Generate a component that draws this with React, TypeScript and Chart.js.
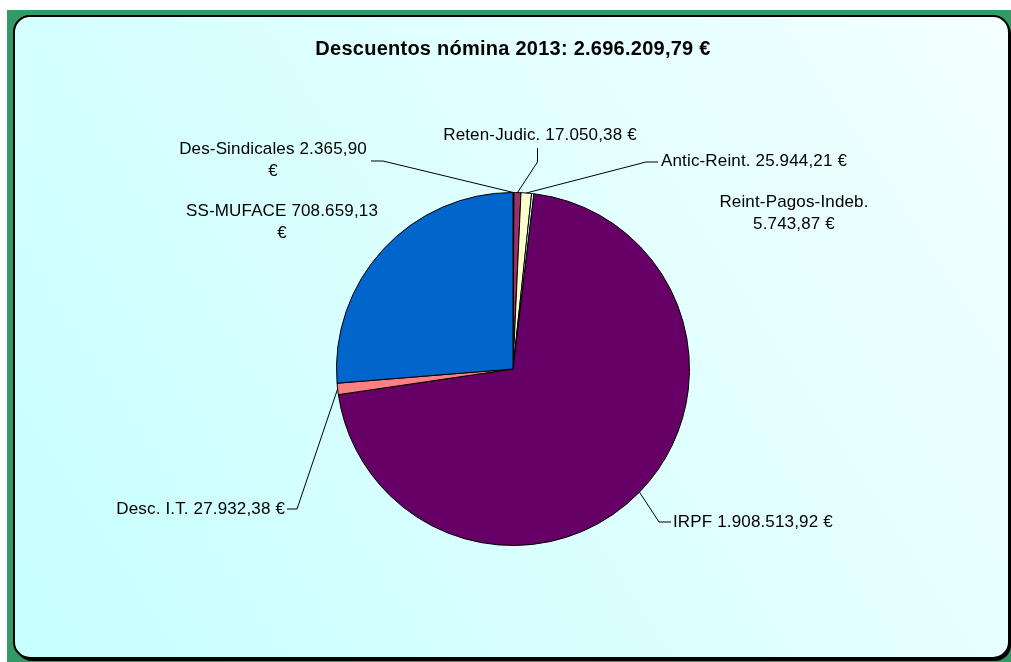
import React, { useEffect, useRef } from "react";
import { Chart, registerables } from "chart.js";

Chart.register(...registerables);

const title = "Descuentos nómina 2013: 2.696.209,79 €";
const categories = [
  "Des-Sindicales",
  "Reten-Judic.",
  "Antic-Reint.",
  "Reint-Pagos-Indeb.",
  "IRPF",
  "Desc. I.T.",
  "SS-MUFACE",
];
const values = [2365.9, 17050.38, 25944.21, 5743.87, 1908513.92, 27932.38, 708659.13];
const colors = ["#9999FF", "#993366", "#FFFFCC", "#CCFFFF", "#660066", "#FF8080", "#0066CC"];

// label placement (style only)
type LabelLayout = {
  x: number;
  y: number;
  align: CanvasTextAlign;
  wrap: "none" | "euro" | "name";
  leader: number[][];
};
const labelLayout: LabelLayout[] = [
  { x: 273, y: 149, align: "center", wrap: "euro", leader: [[371, 161], [383, 161]] },
  { x: 540, y: 135, align: "center", wrap: "none", leader: [[537.5, 148], [537.5, 162]] },
  { x: 661, y: 161, align: "left", wrap: "none", leader: [[658, 162], [646, 162]] },
  { x: 794, y: 202, align: "center", wrap: "name", leader: [] },
  { x: 673, y: 522, align: "left", wrap: "none", leader: [[671, 522], [659, 522]] },
  { x: 285, y: 509, align: "right", wrap: "none", leader: [[287, 509], [297, 509]] },
  { x: 282, y: 211, align: "center", wrap: "euro", leader: [] },
];

function fmt(v: number): string {
  const [i, d] = v.toFixed(2).split(".");
  const grouped = i.replace(/\B(?=(\d{3})+(?!\d))/g, ".");
  return grouped + "," + d;
}

const FONT = '17px "Liberation Sans", Arial, sans-serif';
const TITLE_FONT = 'bold 20px "Liberation Sans", Arial, sans-serif';

function roundRect(ctx: CanvasRenderingContext2D, x: number, y: number, w: number, h: number, r: number) {
  ctx.beginPath();
  ctx.moveTo(x + r, y);
  ctx.lineTo(x + w - r, y);
  ctx.arcTo(x + w, y, x + w, y + r, r);
  ctx.lineTo(x + w, y + h - r);
  ctx.arcTo(x + w, y + h, x + w - r, y + h, r);
  ctx.lineTo(x + r, y + h);
  ctx.arcTo(x, y + h, x, y + h - r, r);
  ctx.lineTo(x, y + r);
  ctx.arcTo(x, y, x + r, y, r);
  ctx.closePath();
}

const backgroundPlugin = {
  id: "bgFrame",
  beforeDraw(chart: any) {
    const ctx: any = chart.ctx;
    const W = chart.width;
    const H = chart.height;
    ctx.save();
    ctx.fillStyle = "#ffffff";
    ctx.fillRect(0, 0, W, H);
    ctx.fillStyle = "#339966";
    ctx.fillRect(7, 10, W - 7, H - 10);
    roundRect(ctx, 16, 18, 995, 643, 16);
    ctx.fillStyle = "#000000";
    ctx.fill();
    const g = ctx.createLinearGradient(14, 658, 1009, 16);
    g.addColorStop(0, "#c6ffff");
    g.addColorStop(1, "#f4ffff");
    roundRect(ctx, 14, 16, 995, 642, 16);
    ctx.fillStyle = g;
    ctx.fill();
    ctx.lineWidth = 2;
    ctx.strokeStyle = "#000000";
    ctx.stroke();
    ctx.fillStyle = "#000000";
    ctx.font = TITLE_FONT;
    ctx.letterSpacing = "0.25px";
    ctx.textAlign = "center";
    ctx.textBaseline = "middle";
    ctx.fillText(title, 513, 49);
    ctx.restore();
  },
};

const labelsPlugin = {
  id: "sliceLabels",
  afterDatasetsDraw(chart: any) {
    const ctx: any = chart.ctx;
    const meta = chart.getDatasetMeta(0);
    ctx.save();
    ctx.font = FONT;
    ctx.letterSpacing = "0.15px";
    ctx.fillStyle = "#000000";
    ctx.strokeStyle = "#000000";
    ctx.lineWidth = 1;
    ctx.textBaseline = "middle";
    meta.data.forEach((arc: any, i: number) => {
      const lay = labelLayout[i];
      const props = arc.getProps(["x", "y", "startAngle", "endAngle", "outerRadius"], true);
      const mid = (props.startAngle + props.endAngle) / 2;
      const px = props.x + Math.cos(mid) * props.outerRadius;
      const py = props.y + Math.sin(mid) * props.outerRadius;
      if (lay.leader.length) {
        ctx.beginPath();
        ctx.moveTo(lay.leader[0][0], lay.leader[0][1]);
        for (let k = 1; k < lay.leader.length; k++) ctx.lineTo(lay.leader[k][0], lay.leader[k][1]);
        ctx.lineTo(px, py);
        ctx.stroke();
      }
      const valueText = fmt(values[i]);
      let lines: string[];
      if (lay.wrap === "euro") lines = [categories[i] + " " + valueText, "€"];
      else if (lay.wrap === "name") lines = [categories[i], valueText + " €"];
      else lines = [categories[i] + " " + valueText + " €"];
      ctx.textAlign = lay.align;
      lines.forEach((ln, k) => {
        ctx.fillText(ln, lay.x, lay.y + k * 22);
      });
    });
    ctx.restore();
  },
};

export default function App() {
  const ref = useRef<HTMLCanvasElement | null>(null);
  useEffect(() => {
    if (!ref.current) return;
    const chart = new Chart(ref.current, {
      type: "pie",
      data: {
        labels: categories,
        datasets: [
          {
            data: values,
            backgroundColor: colors,
            borderColor: "#000000",
            borderWidth: 1,
          },
        ],
      },
      options: {
        responsive: false,
        animation: false,
        devicePixelRatio: 1,
        layout: { padding: { left: 336, right: 321, top: 192, bottom: 116 } },
        plugins: {
          legend: { display: false },
          tooltip: { enabled: false },
          title: { display: false },
        },
      },
      plugins: [backgroundPlugin, labelsPlugin],
    });
    return () => chart.destroy();
  }, []);
  return (
    <div style={{ position: "fixed", left: 0, top: 0, width: 1011, height: 662 }}>
      <canvas ref={ref} width={1011} height={662} style={{ width: 1011, height: 662 }} />
    </div>
  );
}
